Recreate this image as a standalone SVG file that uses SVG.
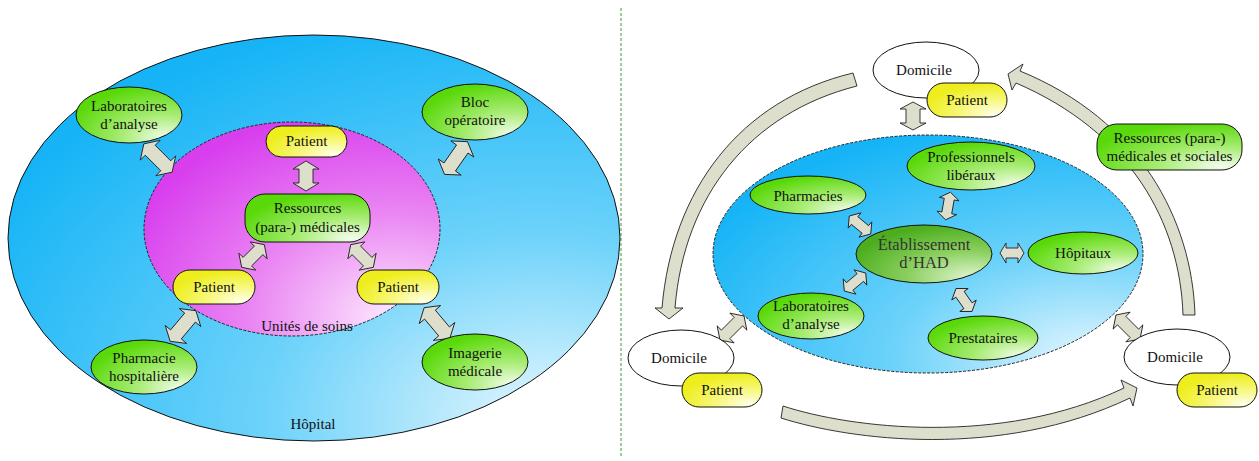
<svg xmlns="http://www.w3.org/2000/svg" width="1259" height="461" viewBox="0 0 1259 461">
<style>
.t{font-family:"Liberation Serif","Times New Roman",serif;font-size:15px;text-anchor:middle;fill:#111}
.th{font-family:"Liberation Serif","Times New Roman",serif;font-size:16.5px;text-anchor:middle;fill:#333}
.arr{fill:#dddfcc;stroke:#222;stroke-width:0.9;stroke-linejoin:miter}
.grn{fill:url(#gGreen);stroke:#111;stroke-width:1}
.yel{fill:url(#gYellow);stroke:#111;stroke-width:1}
.dom{fill:#fff;stroke:#111;stroke-width:1}
</style>
<defs>
<radialGradient id="gGreen" cx="0.82" cy="0.88" r="0.9" fx="0.85" fy="0.92">
<stop offset="0" stop-color="#f4fdee"/><stop offset="0.45" stop-color="#a8ec74"/><stop offset="1" stop-color="#5ad90a"/>
</radialGradient>
<radialGradient id="gHad" cx="0.82" cy="0.88" r="0.9" fx="0.85" fy="0.92">
<stop offset="0" stop-color="#e2f6d2"/><stop offset="0.5" stop-color="#8cd060"/><stop offset="1" stop-color="#4cae1e"/>
</radialGradient>
<radialGradient id="gYellow" cx="0.82" cy="0.88" r="0.85" fx="0.85" fy="0.92">
<stop offset="0" stop-color="#ffffea"/><stop offset="0.5" stop-color="#f7f77a"/><stop offset="1" stop-color="#eeee1e"/>
</radialGradient>
<radialGradient id="gBlue" cx="0.85" cy="0.92" r="1" fx="0.88" fy="0.95">
<stop offset="0" stop-color="#e6f7fe"/><stop offset="0.45" stop-color="#6cd2fa"/><stop offset="1" stop-color="#16b4f6"/>
</radialGradient>
<radialGradient id="gMag" cx="0.82" cy="0.88" r="0.95" fx="0.85" fy="0.92">
<stop offset="0" stop-color="#fdeafd"/><stop offset="0.5" stop-color="#ea86f3"/><stop offset="1" stop-color="#d83eee"/>
</radialGradient>
</defs>

<rect width="1259" height="461" fill="#fff"/>
<line x1="621" y1="8" x2="621" y2="458" stroke="#3a9a3a" stroke-width="1" stroke-dasharray="3,2"/>

<g id="hopital">
<ellipse cx="314" cy="238" rx="306" ry="203" fill="url(#gBlue)" stroke="#111" stroke-width="1"/>
<text class="t" x="313" y="429">Hôpital</text>
</g>
<g id="unites-de-soins">
<ellipse cx="292" cy="229" rx="148" ry="107" fill="url(#gMag)" stroke="#222" stroke-width="1" stroke-dasharray="3,1.5"/>
<text class="t" x="307" y="331">Unités de soins</text>
</g>
<g id="zone-had">
<ellipse cx="928" cy="254" rx="215" ry="119" fill="url(#gBlue)" stroke="#222" stroke-width="1" stroke-dasharray="3,1.5"/>
</g>

<g id="connectors">
<path class="arr" transform="translate(306,176) rotate(90)" d="M-15,0 L-7,-13 L-7,-7 L7,-7 L7,-13 L15,0 L7,13 L7,7 L-7,7 L-7,13 Z"/>
<path class="arr" transform="translate(253,256) rotate(135)" d="M-16,0 L-8,-12 L-8,-6 L8,-6 L8,-12 L16,0 L8,12 L8,6 L-8,6 L-8,12 Z"/>
<path class="arr" transform="translate(362,256) rotate(45)" d="M-16,0 L-8,-12 L-8,-6 L8,-6 L8,-12 L16,0 L8,12 L8,6 L-8,6 L-8,12 Z"/>
<path class="arr" transform="translate(158,158) rotate(45)" d="M-20,0 L-11,-14 L-11,-7 L11,-7 L11,-14 L20,0 L11,14 L11,7 L-11,7 L-11,14 Z"/>
<path class="arr" transform="translate(456,158) rotate(125)" d="M-20,0 L-11,-14 L-11,-7 L11,-7 L11,-14 L20,0 L11,14 L11,7 L-11,7 L-11,14 Z"/>
<path class="arr" transform="translate(183,326) rotate(-50)" d="M-20,0 L-11,-14 L-11,-7 L11,-7 L11,-14 L20,0 L11,14 L11,7 L-11,7 L-11,14 Z"/>
<path class="arr" transform="translate(437,323) rotate(50)" d="M-20,0 L-11,-14 L-11,-7 L11,-7 L11,-14 L20,0 L11,14 L11,7 L-11,7 L-11,14 Z"/>

<path class="arr" transform="translate(913,116) rotate(90)" d="M-14,0 L-7,-13 L-7,-7 L7,-7 L7,-13 L14,0 L7,13 L7,7 L-7,7 L-7,13 Z"/>
<path class="arr" transform="translate(860,225) rotate(40)" d="M-14,0 L-7,-10 L-7,-5 L7,-5 L7,-10 L14,0 L7,10 L7,5 L-7,5 L-7,10 Z"/>
<path class="arr" transform="translate(948,206) rotate(100)" d="M-14,0 L-7,-10 L-7,-5 L7,-5 L7,-10 L14,0 L7,10 L7,5 L-7,5 L-7,10 Z"/>
<path class="arr" transform="translate(1012,253)" d="M-12,0 L-6,-10 L-6,-5 L6,-5 L6,-10 L12,0 L6,10 L6,5 L-6,5 L-6,10 Z"/>
<path class="arr" transform="translate(855,282) rotate(-40)" d="M-14,0 L-7,-10 L-7,-5 L7,-5 L7,-10 L14,0 L7,10 L7,5 L-7,5 L-7,10 Z"/>
<path class="arr" transform="translate(964,300) rotate(55)" d="M-14,0 L-7,-10 L-7,-5 L7,-5 L7,-10 L14,0 L7,10 L7,5 L-7,5 L-7,10 Z"/>
<path class="arr" transform="translate(732,328) rotate(-45)" d="M-17,0 L-9,-12 L-9,-6 L9,-6 L9,-12 L17,0 L9,12 L9,6 L-9,6 L-9,12 Z"/>
<path class="arr" transform="translate(1128,327) rotate(45)" d="M-17,0 L-9,-12 L-9,-6 L9,-6 L9,-12 L17,0 L9,12 L9,6 L-9,6 L-9,12 Z"/>

<path class="arr" d="M853,73 C740,100 672,190 662,308 L655,308 L669,319 L683,308 L675,308 C684,196 750,113 857,86 Z"/>
<path class="arr" d="M1195,315 C1192,220 1140,120 1020,71 L1023,64 L1008,74 L1012,90 L1016,83 C1130,132 1180,222 1183,315 Z"/>
<path class="arr" d="M781,418 C850,440 1000,460 1130,398 L1133,406 L1137,388 L1121,380 L1124,388 C1000,447 850,428 783,406 Z"/>
</g>

<g id="patient-haut-gauche"><rect class="yel" x="266" y="126" width="81" height="31" rx="15.5"/><text class="t" x="306.5" y="146">Patient</text></g>
<g id="ressources-medicales"><rect class="grn" x="245" y="194" width="125" height="48" rx="20"/><text class="t" x="307.5" y="213">Ressources</text><text class="t" x="307.5" y="232">(para-) médicales</text></g>
<g id="patient-gauche"><rect class="yel" x="173" y="270" width="82" height="34" rx="17"/><text class="t" x="214" y="292">Patient</text></g>
<g id="patient-droite"><rect class="yel" x="357" y="270" width="82" height="34" rx="17"/><text class="t" x="398" y="292">Patient</text></g>
<g id="laboratoires-hopital"><ellipse class="grn" cx="129" cy="115" rx="53" ry="28"/><text class="t" x="129" y="111">Laboratoires</text><text class="t" x="129" y="129">d’analyse</text></g>
<g id="bloc-operatoire"><ellipse class="grn" cx="475" cy="112" rx="53" ry="28"/><text class="t" x="475" y="107">Bloc</text><text class="t" x="475" y="125">opératoire</text></g>
<g id="pharmacie-hospitaliere"><ellipse class="grn" cx="144" cy="367" rx="53" ry="27"/><text class="t" x="144" y="363">Pharmacie</text><text class="t" x="144" y="381">hospitalière</text></g>
<g id="imagerie-medicale"><ellipse class="grn" cx="475" cy="362" rx="53" ry="28"/><text class="t" x="475" y="358">Imagerie</text><text class="t" x="475" y="376">médicale</text></g>

<g id="domicile-haut"><ellipse class="dom" cx="926" cy="70" rx="53" ry="28"/><text class="t" x="924" y="75">Domicile</text></g>
<g id="patient-haut-droite"><rect class="yel" x="927" y="83" width="80" height="34" rx="17"/><text class="t" x="967" y="105">Patient</text></g>
<g id="ressources-sociales"><rect class="grn" x="1097" y="124" width="145" height="46" rx="20"/><text class="t" x="1169.5" y="143">Ressources (para-)</text><text class="t" x="1169.5" y="161">médicales et sociales</text></g>
<g id="domicile-bas-gauche"><ellipse class="dom" cx="681" cy="358" rx="53" ry="28"/><text class="t" x="679" y="363">Domicile</text></g>
<g id="patient-bas-gauche"><rect class="yel" x="682" y="373" width="80" height="34" rx="17"/><text class="t" x="722" y="395">Patient</text></g>
<g id="domicile-bas-droite"><ellipse class="dom" cx="1177" cy="357" rx="53" ry="28"/><text class="t" x="1175" y="362">Domicile</text></g>
<g id="patient-bas-droite"><rect class="yel" x="1177" y="373" width="80" height="34" rx="17"/><text class="t" x="1217" y="395">Patient</text></g>

<g id="etablissement-had"><ellipse cx="924" cy="254" rx="68" ry="29" fill="url(#gHad)" stroke="#111" stroke-width="1"/><text class="th" x="924" y="250">Établissement</text><text class="th" x="924" y="268">d’HAD</text></g>
<g id="professionnels-liberaux"><ellipse class="grn" cx="971" cy="166" rx="64" ry="24"/><text class="t" x="971" y="162">Professionnels</text><text class="t" x="971" y="180">libéraux</text></g>
<g id="pharmacies"><ellipse class="grn" cx="808" cy="195" rx="58" ry="19"/><text class="t" x="808" y="201">Pharmacies</text></g>
<g id="hopitaux"><ellipse class="grn" cx="1083" cy="253" rx="55" ry="21"/><text class="t" x="1083" y="258">Hôpitaux</text></g>
<g id="laboratoires-had"><ellipse class="grn" cx="811" cy="316" rx="53" ry="23"/><text class="t" x="811" y="311">Laboratoires</text><text class="t" x="811" y="329">d’analyse</text></g>
<g id="prestataires"><ellipse class="grn" cx="983" cy="338" rx="55" ry="22"/><text class="t" x="983" y="343">Prestataires</text></g>
</svg>
